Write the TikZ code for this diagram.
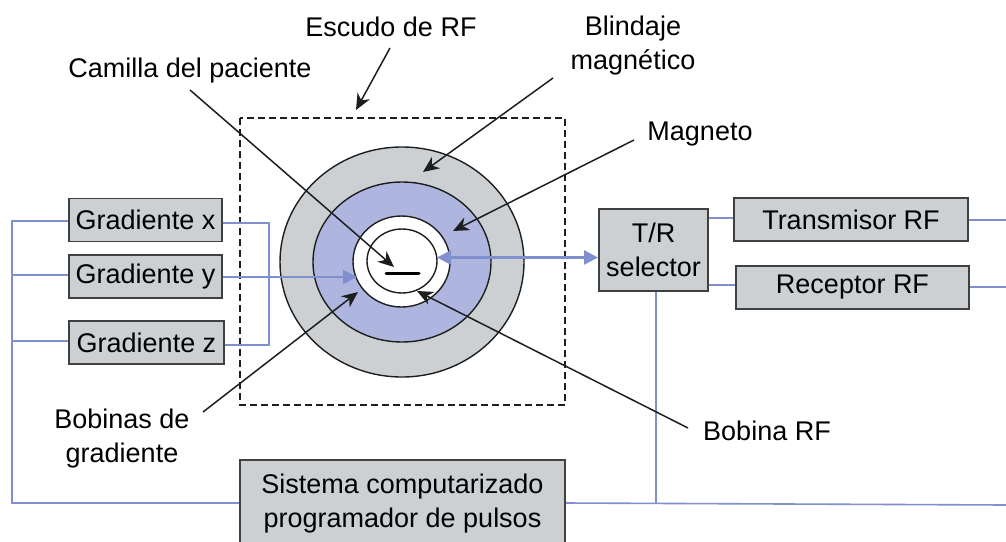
\documentclass[tikz,border=0pt]{standalone}
\usepackage{fontspec}
\setmainfont{Liberation Sans}
\usetikzlibrary{arrows.meta}
\definecolor{boxgray}{HTML}{CDD0D2}
\definecolor{ringblue}{HTML}{AEB6E0}
\definecolor{wireblue}{HTML}{7F8FD0}
\definecolor{inkdark}{HTML}{1E1E1E}
\tikzset{
  x=1pt,y=-1pt,
  boxnode/.style={draw=inkdark!85!white,line width=1.6pt,fill=boxgray,inner sep=0pt,align=center,text=black,font=\fontsize{27}{34}\selectfont},
  labelnode/.style={inner sep=0pt,align=center,text=black,font=\fontsize{27}{34}\selectfont},
  wire/.style={draw=wireblue,line width=1.6pt},
  wirearrow/.style={wire,-{Triangle[length=14pt,width=14pt,fill=wireblue]}},
  wiredouble/.style={draw=wireblue,line width=2.4pt,{Triangle[length=14pt,width=14pt,fill=wireblue]}-{Triangle[length=14pt,width=14pt,fill=wireblue]}},
  pointer/.style={draw=inkdark,line width=1.5pt,-{Stealth[length=16pt,width=14pt,inset=5pt]}},
  ring/.style={draw=inkdark,line width=1.4pt},
}
\begin{document}
\begin{tikzpicture}
\useasboundingbox (0,0) rectangle (1006,541);
% coils and shields
\draw[ring,fill=boxgray] (402,262) ellipse [x radius=122,y radius=115];
\draw[ring,fill=ringblue] (402,262) ellipse [x radius=89,y radius=80];
\draw[ring,fill=white] (401.5,261.5) ellipse [x radius=48.5,y radius=45.5];
\draw[ring] (402,261) ellipse [x radius=35,y radius=32];
\draw[black,line width=3pt,line cap=round] (386,273.5) -- (419,273.5);
\draw[dashed,dash pattern=on 7pt off 4pt,draw=inkdark,line width=1.5pt] (240,118) rectangle (565,405);
% boxes
\node[boxnode,minimum width=153pt,minimum height=43pt] (gx) at (145.5,220) {Gradiente x};
\node[boxnode,minimum width=153pt,minimum height=43pt] (gy) at (145.5,276.5) {Gradiente y};
\node[boxnode,minimum width=155pt,minimum height=43pt] (gz) at (146.5,342.5) {Gradiente z};
\node[boxnode,minimum width=109pt,minimum height=82pt] (tr) at (653.5,250) {T/R\\selector};
\node[boxnode,minimum width=234pt,minimum height=43pt] (tx) at (851,219.5) {Transmisor RF};
\node[boxnode,minimum width=233pt,minimum height=43pt] (rx) at (852.5,287.5) {Receptor RF};
\node[boxnode,minimum width=325pt,minimum height=88pt] (sys) at (402.5,504) {Sistema computarizado\\programador de pulsos};
% free ends
\coordinate (busTop) at (12,221);
\coordinate (busY) at (12,275);
\coordinate (busZ) at (12,341);
\coordinate (busBot) at (12,503);
\coordinate (gradR) at (269,223);
\coordinate (gradRb) at (269,345);
\coordinate (gyTip) at (357,277);
\coordinate (coilTip) at (437,257.5);
\coordinate (trL) at (598,257.5);
\coordinate (txEnd) at (1006,220);
\coordinate (rxEnd) at (1006,287);
\coordinate (sysEnd) at (1006,505);
\coordinate (trDrop) at (656,504);
% wires
\draw[wire] (gx.west |- busTop) -- (busTop) -- (busBot) -- (sys.west |- busBot);
\draw[wire] (busY) -- (gy.west |- busY);
\draw[wire] (busZ) -- (gz.west |- busZ);
\draw[wire] (gx.east |- gradR) -- (gradR) -- (gradRb) -- (gz.east |- gradRb);
\draw[wirearrow] (gy.east |- gyTip) -- (gyTip);
\draw[wiredouble] (coilTip) -- (trL);
\draw[wire] (tr.east |- 0,218) -- (tx.west |- 0,218);
\draw[wire] (tr.east |- 0,285) -- (rx.west |- 0,285);
\draw[wire] (tx.east |- txEnd) -- (txEnd);
\draw[wire] (rx.east |- rxEnd) -- (rxEnd);
\draw[wire] (tr.south -| trDrop) -- (trDrop);
\draw[wire] (sys.east |- 0,503) -- (sysEnd);
% labels
\node[labelnode] (lesc) at (391,27) {Escudo de RF};
\node[labelnode] (lbli) at (633,46) {Blindaje\\magnético};
\node[labelnode] (lcam) at (190,71) {Camilla del paciente};
\node[labelnode] (lmag) at (700,134) {Magneto};
\node[labelnode] (lbob) at (122,439) {Bobinas de\\gradiente};
\node[labelnode] (lrf) at (767,431) {Bobina RF};
% pointer ends
\coordinate (pEsc) at (390,48);
\coordinate (tEsc) at (356,110);
\coordinate (pBli) at (553,78);
\coordinate (tBli) at (423,172);
\coordinate (pMag) at (634,140);
\coordinate (tMag) at (453,231);
\coordinate (pCam) at (190,90);
\coordinate (tCam) at (394,267);
\coordinate (pBob) at (203,412);
\coordinate (tBob) at (358,292);
\coordinate (pRf) at (688,428);
\coordinate (tRf) at (417,291);
\draw[pointer] (pEsc) -- (tEsc);
\draw[pointer] (pBli) -- (tBli);
\draw[pointer] (pMag) -- (tMag);
\draw[pointer] (pCam) -- (tCam);
\draw[pointer] (pBob) -- (tBob);
\draw[pointer] (pRf) -- (tRf);
\end{tikzpicture}
\end{document}
